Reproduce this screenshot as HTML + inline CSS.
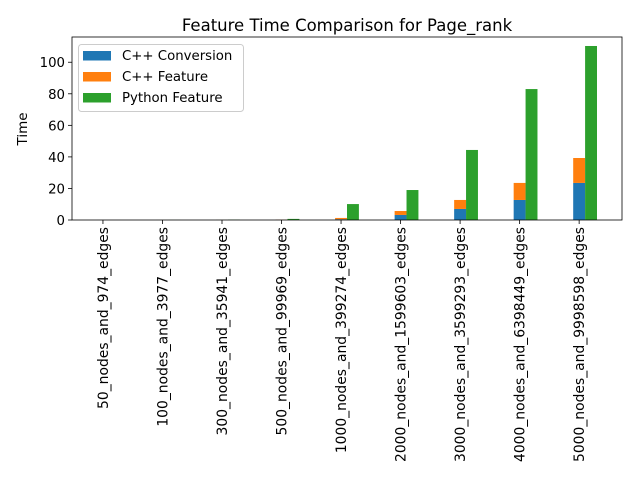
<!DOCTYPE html>
<html><head><meta charset="utf-8"><style>
body{margin:0;background:#fff;}
svg{font-family:"DejaVu Sans","Liberation Sans",sans-serif;}
</style></head><body>
<svg id="chart" width="640" height="480" xmlns="http://www.w3.org/2000/svg">
<rect width="640" height="480" fill="#fff"/>
<text x="347" y="31" font-size="16.5" text-anchor="middle">Feature Time Comparison for Page_rank</text>
<text transform="translate(27,129) rotate(-90)" font-size="13.5" text-anchor="middle">Time</text>
<g id="bars"></g>
<g id="axes"></g>
<g>
<rect x="78.5" y="44.5" width="165" height="67" rx="3" fill="#fff" fill-opacity="0.8" stroke="#ccc"/>
<rect x="83" y="51" width="28" height="9.5" fill="#1f77b4"/>
<text x="122" y="60" font-size="13.3">C++ Conversion</text>
<rect x="83" y="72" width="28" height="9.5" fill="#ff7f0e"/>
<text x="122" y="81" font-size="13.3">C++ Feature</text>
<rect x="83" y="93" width="28" height="9.5" fill="#2ca02c"/>
<text x="122" y="102" font-size="13.3">Python Feature</text>
</g>
</svg>
<script>
const categories=["50_nodes_and_974_edges","100_nodes_and_3977_edges","300_nodes_and_35941_edges","500_nodes_and_99969_edges","1000_nodes_and_399274_edges","2000_nodes_and_1599603_edges","3000_nodes_and_3599293_edges","4000_nodes_and_6398449_edges","5000_nodes_and_9998598_edges"];
const cppConversion=[0.01,0.02,0.05,0.1,0.5,3.2,7.0,12.7,23.5];
const cppFeature=[0.01,0.02,0.05,0.15,0.8,2.5,5.7,10.8,15.8];
const pythonFeature=[0.02,0.05,0.2,0.7,10.1,19.0,44.4,83.0,110.3];
const yTicks=[0,20,40,60,80,100];

const L=72,R=622,T=37,B=220;
const xMin=-0.52,xMax=8.72,yMax=116;
const xs=v=>L+(v-xMin)/(xMax-xMin)*(R-L);
const ys=v=>B-v/yMax*(B-T);
const NS="http://www.w3.org/2000/svg";
const bars=document.getElementById('bars'),axes=document.getElementById('axes');
function mk(tag,attrs,parent){const e=document.createElementNS(NS,tag);for(const k in attrs)e.setAttribute(k,attrs[k]);parent.appendChild(e);return e;}
function bar(x0,x1,v0,v1,color,name){
  const r=mk('rect',{x:xs(x0),y:ys(v1),width:xs(x1)-xs(x0),height:Math.max(0,ys(v0)-ys(v1)),fill:color},bars);
  
  
}
categories.forEach((c,i)=>{
  bar(i-0.1,i+0.1,0,cppConversion[i],'#1f77b4','bar-cpp-conversion-'+i);
  bar(i-0.1,i+0.1,cppConversion[i],cppConversion[i]+cppFeature[i],'#ff7f0e','bar-cpp-feature-'+i);
  bar(i+0.1,i+0.3,0,pythonFeature[i],'#2ca02c','bar-python-feature-'+i);
  const x=xs(i);
  const t=mk('line',{x1:x,x2:x,y1:B,y2:B+4,stroke:'#000','stroke-width':0.8},axes);
  
  
  const tx=mk('text',{transform:`translate(${x+5},${B+7}) rotate(-90)`,'font-size':13.9,'text-anchor':'end'},axes);
  tx.textContent=c;
  
  
});
yTicks.forEach(v=>{
  const y=ys(v);
  const t=mk('line',{x1:L-4,x2:L,y1:y,y2:y,stroke:'#000','stroke-width':0.8},axes);
  
  
  const tx=mk('text',{x:L-7,y:y+5,'font-size':13.3,'text-anchor':'end'},axes);
  tx.textContent=v;
  
  
});
const frame=mk('rect',{x:L,y:T,width:R-L,height:B-T,fill:'none',stroke:'#000','stroke-width':0.8},axes);


</script>
</body></html>
